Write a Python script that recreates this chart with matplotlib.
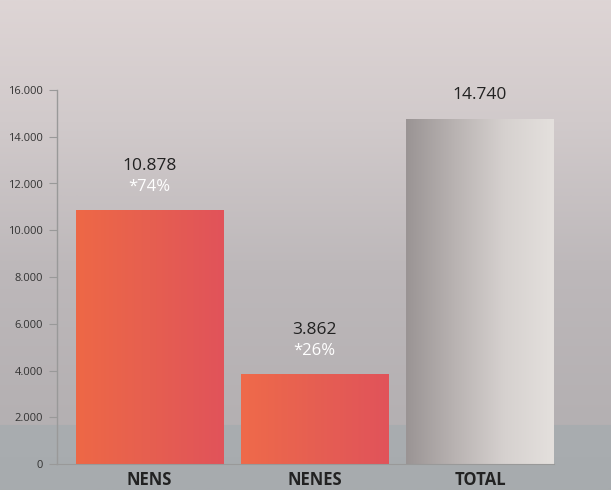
import numpy as np
import matplotlib.pyplot as plt
from matplotlib.colors import LinearSegmentedColormap

categories = ["NENS", "NENES", "TOTAL"]
values = [10878, 3862, 14740]
value_labels = ["10.878", "3.862", "14.740"]
pct_labels = ["*74%", "*26%", None]
yticks = [0, 2000, 4000, 6000, 8000, 10000, 12000, 14000, 16000]
ytick_labels = ["0", "2.000", "4.000", "6.000", "8.000", "10.000", "12.000", "14.000", "16.000"]

plt.rcParams["font.family"] = ["Open Sans", "DejaVu Sans"]

fig = plt.figure(figsize=(6.11, 4.9), dpi=100)

# background gradient
bg = fig.add_axes([0, 0, 1, 1])
bg_cmap = LinearSegmentedColormap.from_list(
    "bg",
    [(0.0, "#a7abae"), (0.13, "#a9adb0"), (0.132, "#b4b0b2"),
     (0.45, "#bdb8ba"), (0.75, "#d1cacb"), (1.0, "#ded5d5")])
grad = np.linspace(0, 1, 490).reshape(-1, 1)
bg.imshow(grad, aspect="auto", cmap=bg_cmap, origin="lower", extent=[0, 1, 0, 1])
bg.set_axis_off()

ax = fig.add_axes([57 / 611, 26 / 490, 497 / 611, 374 / 490])
ax.patch.set_alpha(0)
ax.set_xlim(-0.56, 2.448)
ax.set_ylim(0, 16000)

bar_cmaps = [
    LinearSegmentedColormap.from_list("o1", ["#ee6846", "#e65f50", "#e1535a"]),
    LinearSegmentedColormap.from_list("o2", ["#ef6a4a", "#e65f52", "#e1535a"]),
    LinearSegmentedColormap.from_list("g", ["#9a9494", "#b9b3b2", "#d6d1cf", "#e4e0dd"]),
]
width = 0.89
bars = ax.bar(range(len(categories)), values, width=width, color="none", edgecolor="none")
hgrad = np.linspace(0, 1, 256).reshape(1, -1)
for bar, cm in zip(bars, bar_cmaps):
    x0, w, h = bar.get_x(), bar.get_width(), bar.get_height()
    im = ax.imshow(hgrad, aspect="auto", cmap=cm, extent=[x0, x0 + w, 0, h], zorder=2)
    im.set_clip_path(bar)
ax.set_aspect("auto")

for i, (v, vl, pl) in enumerate(zip(values, value_labels, pct_labels)):
    if pl:
        ax.annotate(vl, (i, v), xytext=(0, 44), textcoords="offset pixels",
                    ha="center", va="center", fontsize=12.5, color="#222222")
        ax.annotate(pl, (i, v), xytext=(0, 23), textcoords="offset pixels",
                    ha="center", va="center", fontsize=12, color="white")
    else:
        ax.annotate(vl, (i, v), xytext=(0, 24), textcoords="offset pixels",
                    ha="center", va="center", fontsize=12.5, color="#222222")

ax.set_yticks(yticks)
ax.set_yticklabels(ytick_labels, fontsize=8, color="#333333")
ax.set_xticks(range(len(categories)))
ax.set_xticklabels(categories, fontsize=12, fontweight="bold", color="#222222")
ax.tick_params(axis="y", length=6, color="#999999", pad=4)
ax.tick_params(axis="x", length=0, pad=5)
for s in ["top", "right"]:
    ax.spines[s].set_visible(False)
ax.spines["left"].set_color("#999999")
ax.spines["bottom"].set_color("#999999")
ax.spines["left"].set_linewidth(1)
ax.spines["bottom"].set_linewidth(0.8)

plt.savefig("out.png", dpi=100)
